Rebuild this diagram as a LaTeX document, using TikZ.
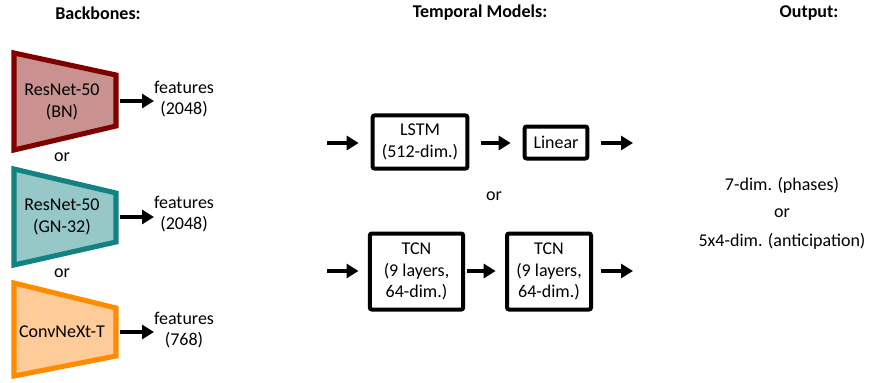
\documentclass[tikz,border=0pt]{standalone}
\usepackage{fontspec}
\setmainfont{Carlito}
\usetikzlibrary{arrows.meta}
\definecolor{redB}{HTML}{800000}
\definecolor{redF}{HTML}{C99290}
\definecolor{tealB}{HTML}{138282}
\definecolor{tealF}{HTML}{96C8C8}
\definecolor{oraB}{HTML}{FF8C00}
\definecolor{oraF}{HTML}{FFCC99}
\tikzset{
  txt/.style={font=\fontsize{13.5}{16}\selectfont, align=center, inner sep=0pt},
  hdr/.style={font=\fontsize{13.5}{16}\selectfont\bfseries, inner sep=0pt},
  bbone/.style={line width=3.8pt, line join=miter},
  arr/.style={line width=3.4pt, -{Triangle[length=9pt,width=10.5pt]}},
  mbox/.style={draw, line width=3pt, rounded corners=1.5pt, font=\fontsize{13.5}{16}\selectfont, align=center, inner sep=0pt}
}
\begin{document}
\begin{tikzpicture}[x=0.75pt,y=-0.75pt]
\useasboundingbox (0,0) rectangle (871,382);
% headers
\node[hdr] (hb) at (98,13) {Backbones:};
\node[hdr] (ht) at (480,13) {Temporal Models:};
\node[hdr] (ho) at (809,13) {Output:};
% backbones
\draw[bbone, draw=redB, fill=redF] (14,53) -- (116,75) -- (116,126) -- (14,150) -- cycle;
\node[txt] (bb1) at (62,102) {ResNet-50\\(BN)};
\draw[bbone, draw=tealB, fill=tealF] (14,169) -- (116,193) -- (116,242) -- (14,265) -- cycle;
\node[txt] (bb2) at (62,217) {ResNet-50\\(GN-32)};
\draw[bbone, draw=oraB, fill=oraF] (14,283) -- (116,308) -- (116,356) -- (14,376) -- cycle;
\node[txt] (bb3) at (62,332) {ConvNeXt-T};
\node[txt] (or1) at (62,157) {or};
\node[txt] (or2) at (62,273) {or};
% features
\node[txt] (f1) at (184,99) {features\\(2048)};
\node[txt] (f2) at (184,214) {features\\(2048)};
\node[txt] (f3) at (184,330) {features\\(768)};
\coordinate (a1s) at (120,101); \coordinate (a1e) at (154,101);
\coordinate (a2s) at (120,217); \coordinate (a2e) at (154,217);
\coordinate (a3s) at (120,332); \coordinate (a3e) at (154,332);
\draw[arr] (a1s) -- (a1e);
\draw[arr] (a2s) -- (a2e);
\draw[arr] (a3s) -- (a3e);
% temporal models
\node[mbox, minimum width=71pt, minimum height=40pt] (lstm) at (420,142) {LSTM\\(512-dim.)};
\node[mbox, minimum width=47pt, minimum height=24pt] (lin) at (556,142.5) {Linear};
\node[mbox, minimum width=70pt, minimum height=57pt] (tcn1) at (416.5,271.5) {TCN\\(9 layers,\\64-dim.)};
\node[mbox, minimum width=63pt, minimum height=57pt] (tcn2) at (549,271.5) {TCN\\(9 layers,\\64-dim.)};
\node[txt] (or3) at (494,196) {or};
\coordinate (l0) at (327,143);
\coordinate (l3) at (633,143);
\coordinate (t0) at (327,271);
\coordinate (t3) at (633,271);
\draw[arr] (l0) -- ([xshift=-9pt]lstm.west |- l0);
\draw[arr] ([xshift=9pt]lstm.east |- l0) -- ([xshift=-9pt]lin.west |- l0);
\draw[arr] ([xshift=9pt]lin.east |- l0) -- (l3);
\draw[arr] (t0) -- ([xshift=-7pt]tcn1.west |- t0);
\draw[arr] ([xshift=1pt]tcn1.east |- t0) -- ([xshift=-7pt]tcn2.west |- t0);
\draw[arr] ([xshift=6pt]tcn2.east |- t0) -- (t3);
% output
\node[txt] (o1) at (782,185) {7-dim. (phases)};
\node[txt] (o2) at (782,213) {or};
\node[txt] (o3) at (782,241) {5x4-dim. (anticipation)};
\end{tikzpicture}
\end{document}
